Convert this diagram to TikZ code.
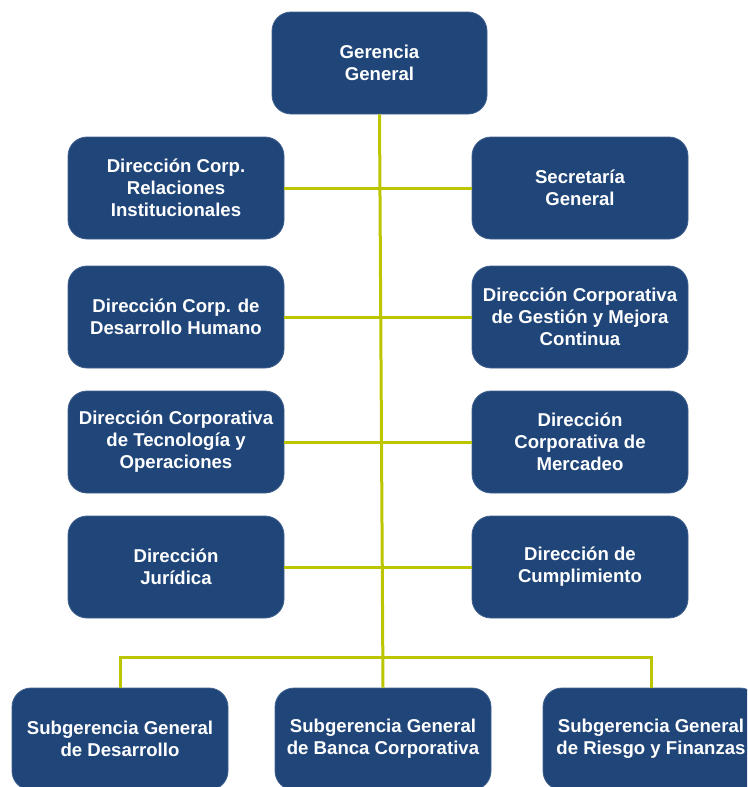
\documentclass[tikz,border=0pt]{standalone}
\usepackage{fontspec}
\setmainfont{Liberation Sans}
\definecolor{boxblue}{RGB}{31,69,121}
\definecolor{linegreen}{RGB}{188,198,0}
\begin{document}
\begin{tikzpicture}[x=1pt,y=-1pt,
  orgbox/.style={draw=boxblue!85!white,line width=0.8pt,fill=boxblue,rounded corners=19pt,
    minimum width=216pt,minimum height=102pt,inner sep=0pt,align=center,
    text=white,font=\fontsize{18.6}{22}\selectfont\bfseries},
  conn/.style={draw=linegreen,line width=3pt}]
\useasboundingbox (0,0) rectangle (747,787);
\clip (0,0) rectangle (747,787);
\node[orgbox,minimum width=215pt] (gg) at (379.5,63) {Gerencia\\General};
\node[orgbox] (L1) at (176,188) {Dirección Corp.\\Relaciones\\Institucionales};
\node[orgbox] (R1) at (580,188) {Secretaría\\General};
\node[orgbox] (L2) at (176,317) {Dirección Corp. de\\Desarrollo Humano};
\node[orgbox] (R2) at (580,317) {Dirección Corporativa\\de Gestión y Mejora\\Continua};
\node[orgbox] (L3) at (176,442) {Dirección Corporativa\\de Tecnología y\\Operaciones};
\node[orgbox] (R3) at (580,442) {Dirección\\Corporativa de\\Mercadeo};
\node[orgbox] (L4) at (176,567) {Dirección\\Jurídica};
\node[orgbox] (R4) at (580,567) {Dirección de\\Cumplimiento};
\node[orgbox] (B1) at (120,739) {Subgerencia General\\de Desarrollo};
\node[orgbox] (B2) at (383,739) {Subgerencia General\\de Banca Corporativa};
\node[orgbox] (B3) at (651,739) {Subgerencia General\\de Riesgo y Finanzas};
\coordinate (bus) at (383,657.5);
\draw[conn] (gg.south) -- (B2.north);
\draw[conn] (L1.east) -- (R1.west);
\draw[conn] (L2.east) -- (R2.west);
\draw[conn] (L3.east) -- (R3.west);
\draw[conn] (L4.east) -- (R4.west);
\draw[conn] (B1.north) |- (bus) -| (B3.north);
\end{tikzpicture}
\end{document}
